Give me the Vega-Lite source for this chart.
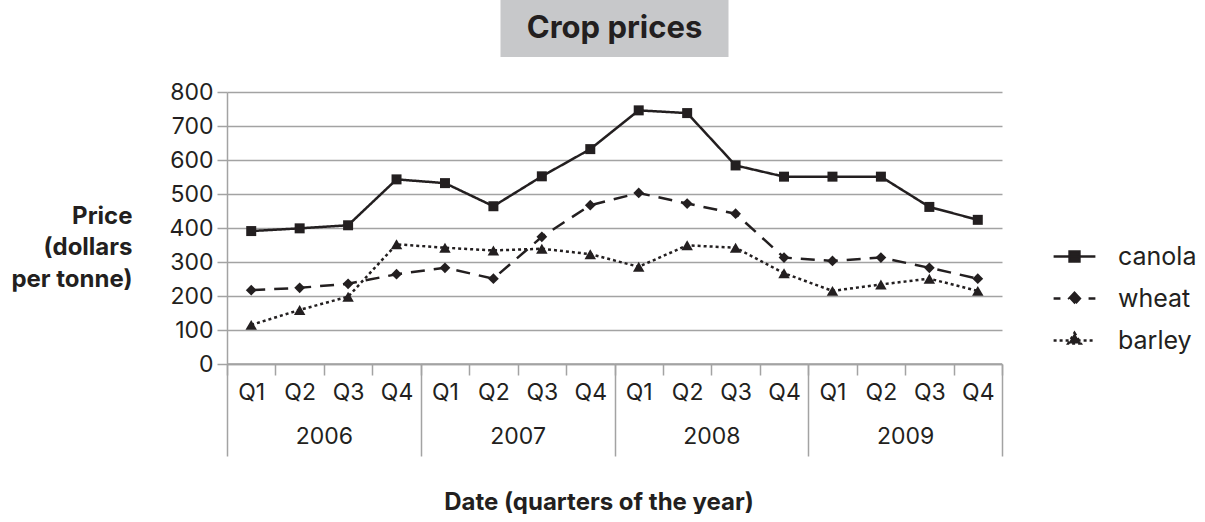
{
  "$schema": "https://vega.github.io/schema/vega-lite/v6.json",
  "background": "white",
  "padding": {"left": 10, "top": 0, "right": 0, "bottom": 0},
  "autosize": {"type": "pad"},
  "config": {
    "font": "Inter",
    "view": {"stroke": null},
    "axis": {"labelColor": "#231f20", "titleColor": "#231f20", "labelFontSize": 23, "titleFontSize": 24, "titleFontWeight": "bold"}
  },
  "datasets": {
    "prices": [
      {"period": "2006 Q1", "crop": "canola", "price": 391},
      {"period": "2006 Q2", "crop": "canola", "price": 399},
      {"period": "2006 Q3", "crop": "canola", "price": 408},
      {"period": "2006 Q4", "crop": "canola", "price": 543},
      {"period": "2007 Q1", "crop": "canola", "price": 532},
      {"period": "2007 Q2", "crop": "canola", "price": 464},
      {"period": "2007 Q3", "crop": "canola", "price": 552},
      {"period": "2007 Q4", "crop": "canola", "price": 632},
      {"period": "2008 Q1", "crop": "canola", "price": 746},
      {"period": "2008 Q2", "crop": "canola", "price": 738},
      {"period": "2008 Q3", "crop": "canola", "price": 584},
      {"period": "2008 Q4", "crop": "canola", "price": 551},
      {"period": "2009 Q1", "crop": "canola", "price": 551},
      {"period": "2009 Q2", "crop": "canola", "price": 551},
      {"period": "2009 Q3", "crop": "canola", "price": 462},
      {"period": "2009 Q4", "crop": "canola", "price": 424},
      {"period": "2006 Q1", "crop": "wheat", "price": 217},
      {"period": "2006 Q2", "crop": "wheat", "price": 224},
      {"period": "2006 Q3", "crop": "wheat", "price": 236},
      {"period": "2006 Q4", "crop": "wheat", "price": 264},
      {"period": "2007 Q1", "crop": "wheat", "price": 283},
      {"period": "2007 Q2", "crop": "wheat", "price": 251},
      {"period": "2007 Q3", "crop": "wheat", "price": 374},
      {"period": "2007 Q4", "crop": "wheat", "price": 467},
      {"period": "2008 Q1", "crop": "wheat", "price": 503},
      {"period": "2008 Q2", "crop": "wheat", "price": 472},
      {"period": "2008 Q3", "crop": "wheat", "price": 442},
      {"period": "2008 Q4", "crop": "wheat", "price": 313},
      {"period": "2009 Q1", "crop": "wheat", "price": 303},
      {"period": "2009 Q2", "crop": "wheat", "price": 313},
      {"period": "2009 Q3", "crop": "wheat", "price": 283},
      {"period": "2009 Q4", "crop": "wheat", "price": 251},
      {"period": "2006 Q1", "crop": "barley", "price": 115},
      {"period": "2006 Q2", "crop": "barley", "price": 159},
      {"period": "2006 Q3", "crop": "barley", "price": 198},
      {"period": "2006 Q4", "crop": "barley", "price": 352},
      {"period": "2007 Q1", "crop": "barley", "price": 342},
      {"period": "2007 Q2", "crop": "barley", "price": 334},
      {"period": "2007 Q3", "crop": "barley", "price": 339},
      {"period": "2007 Q4", "crop": "barley", "price": 323},
      {"period": "2008 Q1", "crop": "barley", "price": 286},
      {"period": "2008 Q2", "crop": "barley", "price": 349},
      {"period": "2008 Q3", "crop": "barley", "price": 342},
      {"period": "2008 Q4", "crop": "barley", "price": 267},
      {"period": "2009 Q1", "crop": "barley", "price": 215},
      {"period": "2009 Q2", "crop": "barley", "price": 234},
      {"period": "2009 Q3", "crop": "barley", "price": 251},
      {"period": "2009 Q4", "crop": "barley", "price": 215}
    ],
    "years": [
      {"year": "2006"},
      {"year": "2007"},
      {"year": "2008"},
      {"year": "2009"}
    ],
    "heading": [{"label": "Crop prices"}]
  },
  "vconcat": [
    {
      "width": 228,
      "height": 57,
      "view": {"fill": "#c7c8ca", "stroke": null},
      "data": {"name": "heading"},
      "mark": {"type": "text", "font": "Inter", "fontSize": 31, "fontWeight": "bold", "color": "#231f20"},
      "encoding": {"text": {"field": "label", "type": "nominal"}}
    },
    {
      "width": 775,
      "height": 272,
      "layer": [
        {
          "data": {"name": "years"},
          "mark": {"type": "rule", "color": "#a3a3a3", "strokeWidth": 1.5},
          "encoding": {
            "x": {
              "field": "year",
              "type": "ordinal",
              "bandPosition": 0,
              "scale": {"paddingInner": 0, "paddingOuter": 0},
              "axis": {
                "orient": "bottom",
                "title": "Date (quarters of the year)",
                "titleX": 371.5,
                "titleY": 145,
                "titleAlign": "center",
                "titleBaseline": "alphabetic",
                "titleFontSize": 24,
                "domain": false,
                "grid": false,
                "tickBand": "extent",
                "tickSize": 92,
                "tickColor": "#a3a3a3",
                "tickWidth": 1.5,
                "labelAngle": 0,
                "labelPadding": -31,
                "labelFontSize": 23
              }
            },
            "x2": {"field": "year", "bandPosition": 1},
            "y": {"datum": 0}
          }
        },
        {
          "data": {"name": "prices"},
          "layer": [
            {
              "mark": {"type": "line", "strokeWidth": 2.5, "color": "#231f20"},
              "encoding": {
                "x": {
                  "field": "period",
                  "type": "ordinal",
                  "scale": {"paddingInner": 0, "paddingOuter": 0},
                  "axis": {
                    "orient": "bottom",
                    "title": null,
                    "labelExpr": "split(datum.value, ' ')[1]",
                    "labelAngle": 0,
                    "labelPadding": 6,
                    "labelFontSize": 23,
                    "tickBand": "extent",
                    "tickSize": 11,
                    "tickColor": "#a3a3a3",
                    "tickWidth": 1.5,
                    "domainColor": "#a3a3a3",
                    "domainWidth": 1.5,
                    "grid": false
                  }
                },
                "y": {
                  "field": "price",
                  "type": "quantitative",
                  "scale": {"domain": [0, 800], "nice": false},
                  "axis": {
                    "title": ["Price", "(dollars", "per tonne)"],
                    "titleAngle": 0,
                    "titleAlign": "right",
                    "titleBaseline": "alphabetic",
                    "titleX": -95,
                    "titleY": 131,
                    "titleLineHeight": 31.7,
                    "titleFontSize": 24,
                    "tickCount": 8,
                    "grid": true,
                    "gridColor": "#a3a3a3",
                    "gridWidth": 1.5,
                    "domainColor": "#a3a3a3",
                    "domainWidth": 1.5,
                    "tickColor": "#a3a3a3",
                    "tickWidth": 1.5,
                    "tickSize": 10,
                    "labelPadding": 4,
                    "labelFontSize": 23
                  }
                },
                "strokeDash": {
                  "field": "crop",
                  "type": "nominal",
                  "scale": {"domain": ["canola", "wheat", "barley"], "range": [[1, 0], [14, 9], [3, 3]]},
                  "legend": {
                    "title": null,
                    "orient": "none",
                    "legendX": 827,
                    "legendY": 144,
                    "padding": 0,
                    "symbolSize": 1444,
                    "symbolStrokeWidth": 2.5,
                    "symbolStrokeColor": "#231f20",
                    "symbolFillColor": "#231f20",
                    "labelFontSize": 25,
                    "labelColor": "#231f20",
                    "labelOffset": 23,
                    "rowPadding": 8,
                    "encode": {
                      "symbols": {
                        "update": {
                          "shape": {"signal": "datum.value === 'canola' ? 'M-1.1,0H1.1M-0.26,-0.26H0.26V0.26H-0.26Z' : datum.value === 'wheat' ? 'M-1.1,0H-0.74M0.74,0H1.1M0,-0.3L0.28,0L0,0.3L-0.28,0Z' : 'M-1.1,0H1.1M0,-0.4L0.33,0.16L-0.33,0.16Z'"},
                          "strokeDash": {"signal": "datum.value === 'barley' ? [2.5, 2.5] : [1, 0]"},
                          "fill": {"value": "#231f20"},
                          "stroke": {"value": "#231f20"}
                        }
                      }
                    }
                  }
                }
              }
            },
            {
              "mark": {"type": "point", "filled": true, "opacity": 1, "color": "#231f20"},
              "encoding": {
                "x": {"field": "period", "type": "ordinal"},
                "y": {"field": "price", "type": "quantitative"},
                "shape": {
                  "field": "crop",
                  "type": "nominal",
                  "scale": {"domain": ["canola", "wheat", "barley"], "range": ["square", "diamond", "triangle-up"]},
                  "legend": null
                },
                "size": {
                  "field": "crop",
                  "type": "nominal",
                  "scale": {"domain": ["canola", "wheat", "barley"], "range": [100, 132, 150]},
                  "legend": null
                }
              }
            }
          ]
        }
      ],
      "resolve": {"scale": {"x": "independent"}, "axis": {"x": "independent"}}
    }
  ],
  "spacing": 35,
  "bounds": "flush",
  "center": true,
  "resolve": {"legend": {"strokeDash": "independent"}}
}
